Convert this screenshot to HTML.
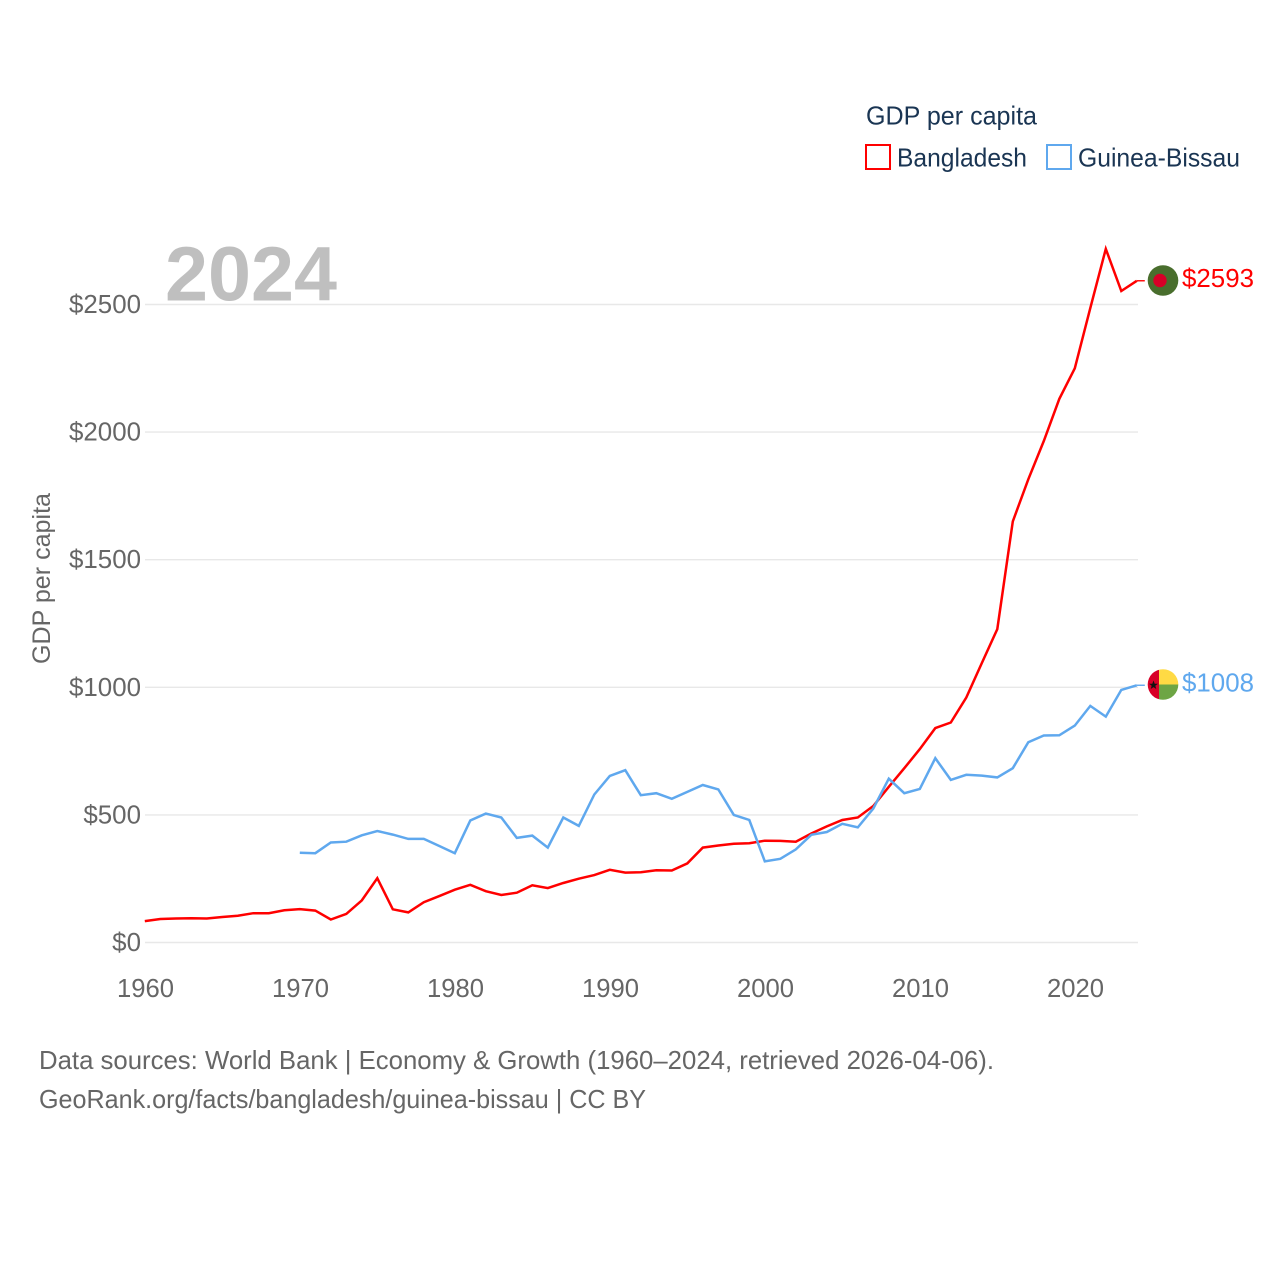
<!DOCTYPE html>
<html lang="en">
<head>
<meta charset="utf-8">
<title>GDP per capita: Bangladesh and Guinea-Bissau</title>
<style>
html,body{margin:0;padding:0;background:#fff}
svg{display:block}
text{font-family:"Liberation Sans",sans-serif}
</style>
</head>
<body>
<svg id="chart" width="1280" height="1280" viewBox="0 0 1280 1280" xmlns="http://www.w3.org/2000/svg">
  <rect width="1280" height="1280" fill="#fff"/>
  <g id="grid"></g>
  <g id="yticks"></g>
  <g id="xticks"></g>
  <text x="165" y="300.5" font-size="77" font-weight="700" fill="#bfbfbf" textLength="172" lengthAdjust="spacingAndGlyphs">2024</text>
  <text transform="translate(50 664) rotate(-90)" font-size="25" fill="#666" textLength="171" lengthAdjust="spacingAndGlyphs">GDP per capita</text>
  <g id="series"></g>

  <g>
    <circle cx="1163" cy="280.5" r="15.3" fill="#496e2d"/>
    <circle cx="1160" cy="280.5" r="6.7" fill="#d80027"/>
  </g>
  <g>
    <clipPath id="gb-clip"><circle cx="1163" cy="684.5" r="15.3"/></clipPath>
    <g clip-path="url(#gb-clip)">
      <rect x="1147" y="669" width="12" height="32" fill="#d80027"/>
      <rect x="1159" y="669" width="20" height="15.5" fill="#ffda44"/>
      <rect x="1159" y="684.5" width="20" height="16" fill="#6da544"/>
    </g>
    <polygon points="1153.5,680.5 1154.7,683.8 1158,683.8 1155.3,685.8 1156.3,689 1153.5,687.1 1150.7,689 1151.7,685.8 1149,683.8 1152.3,683.8" fill="#111"/>
  </g>

  <text id="label-a" x="1182" y="287" font-size="26" fill="#ff0000" textLength="72" lengthAdjust="spacingAndGlyphs"></text>
  <text id="label-b" x="1182" y="691.5" font-size="26" fill="#5fa8ee" textLength="72" lengthAdjust="spacingAndGlyphs"></text>

  <g>
    <text x="866" y="124.5" font-size="26" fill="#1a3553" textLength="171" lengthAdjust="spacingAndGlyphs">GDP per capita</text>
    <g>
      <rect x="866" y="145" width="24" height="24" fill="none" stroke="#ff0000" stroke-width="2"/>
      <text x="897" y="166.5" font-size="26" fill="#1a3553" textLength="130" lengthAdjust="spacingAndGlyphs">Bangladesh</text>
    </g>
    <g>
      <rect x="1047" y="145" width="24" height="24" fill="none" stroke="#5fa8ee" stroke-width="2"/>
      <text x="1078" y="166.5" font-size="26" fill="#1a3553" textLength="162" lengthAdjust="spacingAndGlyphs">Guinea-Bissau</text>
    </g>
  </g>

  <text x="39" y="1069" font-size="26" fill="#666" textLength="955" lengthAdjust="spacingAndGlyphs">Data sources: World Bank | Economy &amp; Growth (1960–2024, retrieved 2026-04-06).</text>
  <text x="39" y="1108" font-size="26" fill="#666" textLength="607" lengthAdjust="spacingAndGlyphs">GeoRank.org/facts/bangladesh/guinea-bissau | CC BY</text>
</svg>
<script>
const years = [1960,1961,1962,1963,1964,1965,1966,1967,1968,1969,1970,1971,1972,1973,1974,1975,1976,1977,1978,1979,1980,1981,1982,1983,1984,1985,1986,1987,1988,1989,1990,1991,1992,1993,1994,1995,1996,1997,1998,1999,2000,2001,2002,2003,2004,2005,2006,2007,2008,2009,2010,2011,2012,2013,2014,2015,2016,2017,2018,2019,2020,2021,2022,2023,2024];
const bangladesh = [84,92,94,95,94,100,105,115,115,126,131,125,90,112,165,252,130,118,158,182,207,226,201,186,195,224,213,233,250,264,285,274,275,283,282,310,372,380,387,389,399,398,395,427,455,480,490,535,610,683,758,840,862,960,1095,1228,1650,1815,1965,2130,2250,2486,2718,2553,2593];
const guineaBissau = [null,null,null,null,null,null,null,null,null,null,352,350,392,395,420,437,423,406,406,378,350,478,505,490,410,419,372,490,457,580,653,675,577,585,563,590,617,600,500,480,318,328,365,422,433,465,451,525,642,585,602,722,637,657,654,647,683,785,811,812,850,927,885,990,1008];
const yTickValues = [0,500,1000,1500,2000,2500];
const yTickLabels = ["$0","$500","$1000","$1500","$2000","$2500"];
const xTickValues = [1960,1970,1980,1990,2000,2010,2020];
const xTickLabels = ["1960","1970","1980","1990","2000","2010","2020"];
const endLabelA = "$2593";
const endLabelB = "$1008";

const NS = "http://www.w3.org/2000/svg";
function xScale(year) { return 144.8 + (year - 1960) * 15.5; }
function yScale(value) { return 942.5 - value * 0.2552; }

const gridGroup = document.getElementById("grid");
const yGroup = document.getElementById("yticks");
const xGroup = document.getElementById("xticks");
const seriesGroup = document.getElementById("series");

yTickValues.forEach(function (v, i) {
  const line = document.createElementNS(NS, "line");
  
  
  line.setAttribute("x1", 145);
  line.setAttribute("x2", 1138);
  line.setAttribute("y1", yScale(v));
  line.setAttribute("y2", yScale(v));
  line.setAttribute("stroke", "#e8e8e8");
  line.setAttribute("stroke-width", 1.4);
  gridGroup.appendChild(line);

  const t = document.createElementNS(NS, "text");
  
  
  t.setAttribute("x", 141);
  t.setAttribute("y", yScale(v) + 8.5);
  t.setAttribute("text-anchor", "end");
  t.setAttribute("font-size", 25.5);
  t.setAttribute("fill", "#666");
  t.setAttribute("textLength", 14.4 * yTickLabels[i].length);
  t.setAttribute("lengthAdjust", "spacingAndGlyphs");
  t.textContent = yTickLabels[i];
  yGroup.appendChild(t);
});

xTickValues.forEach(function (v, i) {
  const t = document.createElementNS(NS, "text");
  
  
  t.setAttribute("x", xScale(v) + 0.7);
  t.setAttribute("y", 997);
  t.setAttribute("text-anchor", "middle");
  t.setAttribute("font-size", 25.5);
  t.setAttribute("fill", "#666");
  t.setAttribute("textLength", 57);
  t.setAttribute("lengthAdjust", "spacingAndGlyphs");
  t.textContent = xTickLabels[i];
  xGroup.appendChild(t);
});

function linePoints(values) {
  const pts = [];
  values.forEach(function (v, i) {
    if (v !== null) pts.push(xScale(years[i]).toFixed(1) + "," + yScale(v).toFixed(1));
  });
  return pts.join(" ");
}

function lastValue(values) {
  return values[values.length - 1];
}

const lineB = document.createElementNS(NS, "polyline");


lineB.setAttribute("points", linePoints(guineaBissau));
lineB.setAttribute("fill", "none");
lineB.setAttribute("stroke", "#5fa8ee");
lineB.setAttribute("stroke-width", 2.5);
lineB.setAttribute("stroke-linejoin", "miter");
seriesGroup.appendChild(lineB);

const lineA = document.createElementNS(NS, "polyline");


lineA.setAttribute("points", linePoints(bangladesh));
lineA.setAttribute("fill", "none");
lineA.setAttribute("stroke", "#ff0000");
lineA.setAttribute("stroke-width", 2.5);
lineA.setAttribute("stroke-linejoin", "miter");
seriesGroup.insertBefore(lineA, lineB);

const connectorA = document.createElementNS(NS, "line");


connectorA.setAttribute("x1", xScale(2024));
connectorA.setAttribute("x2", xScale(2024) + 8);
connectorA.setAttribute("y1", yScale(lastValue(bangladesh)));
connectorA.setAttribute("y2", yScale(lastValue(bangladesh)));
connectorA.setAttribute("stroke", "#ff0000");
connectorA.setAttribute("stroke-width", 1.4);
seriesGroup.appendChild(connectorA);

const connectorB = document.createElementNS(NS, "line");


connectorB.setAttribute("x1", xScale(2024));
connectorB.setAttribute("x2", xScale(2024) + 8);
connectorB.setAttribute("y1", yScale(lastValue(guineaBissau)));
connectorB.setAttribute("y2", yScale(lastValue(guineaBissau)));
connectorB.setAttribute("stroke", "#5fa8ee");
connectorB.setAttribute("stroke-width", 1.4);
seriesGroup.appendChild(connectorB);

document.getElementById("label-a").textContent = endLabelA;
document.getElementById("label-b").textContent = endLabelB;
</script>
</body>
</html>
